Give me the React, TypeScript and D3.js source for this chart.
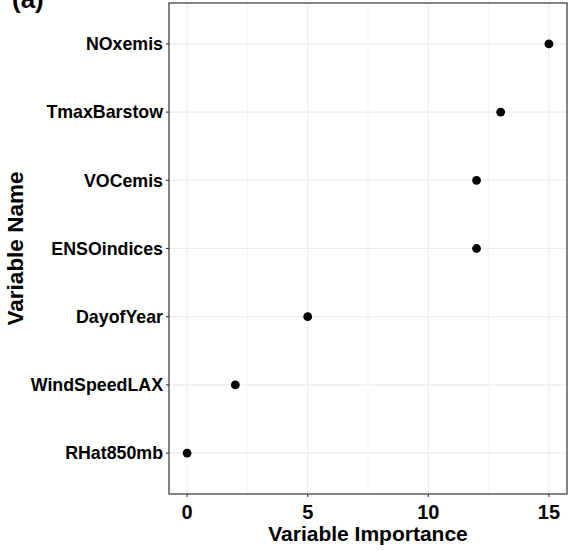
import React from 'react';
import * as d3 from 'd3';

// Variable importance values, top to bottom
const variables = ['NOxemis', 'TmaxBarstow', 'VOCemis', 'ENSOindices', 'DayofYear', 'WindSpeedLAX', 'RHat850mb'];
const importance = [15, 13, 12, 12, 5, 2, 0];
const xTicks = [0, 5, 10, 15];
const xMinorTicks = [2.5, 7.5, 12.5];

const W = 580;
const H = 550;
const margin = { top: 3, right: 13, bottom: 56, left: 169 };
const FONT = '"Liberation Sans", Arial, Helvetica, sans-serif';

const App: React.FC = () => {
  const pw = W - margin.left - margin.right;
  const ph = H - margin.top - margin.bottom;

  // ggplot-style expansion: 5% continuous, 0.6 units discrete
  const x = d3.scaleLinear().domain([-0.75, 15.75]).range([0, pw]);
  const y = d3.scalePoint<string>().domain(variables).range([0, ph]).padding(0.6);

  return (
    <svg width={W} height={H} style={{ position: 'absolute', left: 0, top: 0, background: '#fff' }} fontFamily={FONT}>
      {/* panel label, clipped at the top */}
      <text x={12} y={8} fontSize={26} fontWeight="bold">(a)</text>

      <g transform={`translate(${margin.left},${margin.top})`}>
        {/* minor grid */}
        {xMinorTicks.map(t => (
          <line key={'m' + t} x1={x(t)} x2={x(t)} y1={0} y2={ph} stroke="#f2f2f2" strokeWidth={0.8} />
        ))}
        {/* major grid */}
        {xTicks.map(t => (
          <line key={'g' + t} x1={x(t)} x2={x(t)} y1={0} y2={ph} stroke="#ebebeb" strokeWidth={1.1} />
        ))}
        {variables.map(v => (
          <line key={'h' + v} x1={0} x2={pw} y1={y(v)} y2={y(v)} stroke="#ebebeb" strokeWidth={1.1} />
        ))}

        {/* points */}
        {variables.map((v, i) => (
          <circle key={'p' + v} cx={x(importance[i])} cy={y(v)} r={4.4} fill="#000" />
        ))}

        {/* panel border */}
        <rect x={0} y={0} width={pw} height={ph} fill="none" stroke="#333" strokeWidth={1.2} />

        {/* y axis ticks and labels */}
        {variables.map(v => (
          <g key={'yl' + v}>
            <line x1={-3} x2={0} y1={y(v)} y2={y(v)} stroke="#333" strokeWidth={1.1} />
            <text x={-6} y={y(v)} dy="0.35em" textAnchor="end" fontSize={17.8} fontWeight="bold" fill="#000">{v}</text>
          </g>
        ))}

        {/* x axis ticks and labels */}
        {xTicks.map(t => (
          <g key={'xl' + t}>
            <line x1={x(t)} x2={x(t)} y1={ph} y2={ph + 3} stroke="#333" strokeWidth={1.1} />
            <text x={x(t)} y={ph + 25} textAnchor="middle" fontSize={20} fontWeight="bold" fill="#000">{t}</text>
          </g>
        ))}

        {/* axis titles */}
        <text x={pw / 2} y={ph + 47} textAnchor="middle" fontSize={21} fontWeight="bold" fill="#000">Variable Importance</text>
        <text transform={`translate(${-margin.left + 23},${ph / 2}) rotate(-90)`} textAnchor="middle" fontSize={22.5} fontWeight="bold" fill="#000">Variable Name</text>
      </g>
    </svg>
  );
};

export default App;
